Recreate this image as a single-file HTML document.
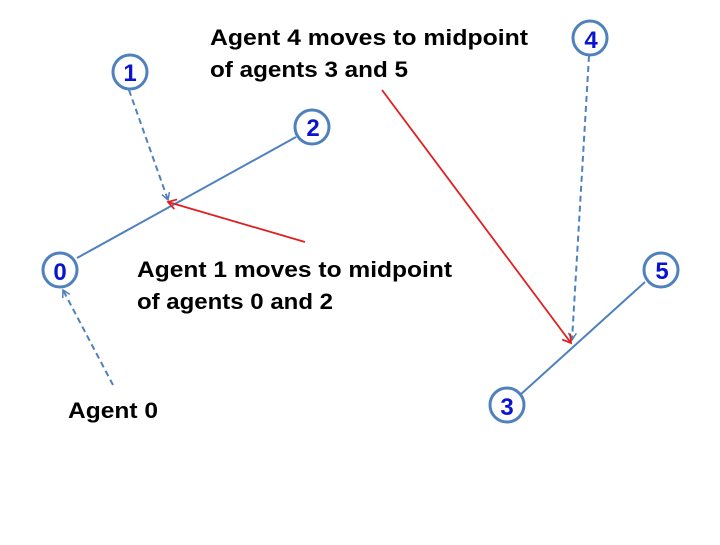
<!DOCTYPE html>
<html><head><style>
body{margin:0;background:#fff;}
svg text{font-family:"Liberation Sans",sans-serif;font-weight:bold;}
</style></head><body>
<svg width="720" height="540" viewBox="0 0 720 540" xmlns="http://www.w3.org/2000/svg">
<defs>
<marker id="ab" markerWidth="10" markerHeight="10" refX="8" refY="5" orient="auto" markerUnits="userSpaceOnUse"><path d="M1,1 L8,5 L1,9" fill="none" stroke="#4f81bd" stroke-width="1.5"/></marker>
<marker id="ar" markerWidth="12" markerHeight="12" refX="9" refY="6" orient="auto" markerUnits="userSpaceOnUse"><path d="M1,1 L9,6 L1,11" fill="none" stroke="#e02020" stroke-width="1.8"/></marker>
</defs>
<g stroke="#4f81bd" stroke-width="2" fill="none">
<line x1="77" y1="258" x2="296" y2="137"/>
<line x1="520" y1="395" x2="645" y2="282"/>
<g stroke-dasharray="6,4" marker-end="url(#ab)">
<line x1="129" y1="90" x2="168" y2="200"/>
<line x1="113" y1="385" x2="63" y2="290"/>
<line x1="589" y1="56" x2="572" y2="340"/>
</g>
</g>
<g stroke="#e02020" stroke-width="1.8" fill="none" marker-end="url(#ar)">
<line x1="305" y1="242" x2="168" y2="202"/>
<line x1="382" y1="90" x2="571" y2="343"/>
</g>
<g stroke="#4f81bd" stroke-width="3" fill="#fff">
<circle cx="130" cy="72" r="17"/>
<circle cx="312" cy="127" r="17"/>
<circle cx="60" cy="270" r="17"/>
<circle cx="590" cy="38" r="17"/>
<circle cx="661" cy="270" r="17"/>
<circle cx="507" cy="405" r="17"/>
</g>
<g fill="#0a14d0" font-size="24" text-anchor="middle">
<text x="130" y="81">1</text>
<text x="313" y="136">2</text>
<text x="60" y="280">0</text>
<text x="591" y="48">4</text>
<text x="662" y="279">5</text>
<text x="507" y="415">3</text>
</g>
<g fill="#000" font-size="22">
<text x="210" y="45" textLength="318" lengthAdjust="spacingAndGlyphs">Agent 4 moves to midpoint</text>
<text x="210" y="77" textLength="198" lengthAdjust="spacingAndGlyphs">of agents 3 and 5</text>
<text x="137" y="277" textLength="315" lengthAdjust="spacingAndGlyphs">Agent 1 moves to midpoint</text>
<text x="137" y="309" textLength="196" lengthAdjust="spacingAndGlyphs">of agents 0 and 2</text>
<text x="68" y="418" textLength="90" lengthAdjust="spacingAndGlyphs">Agent 0</text>
</g>
</svg>
</body></html>
